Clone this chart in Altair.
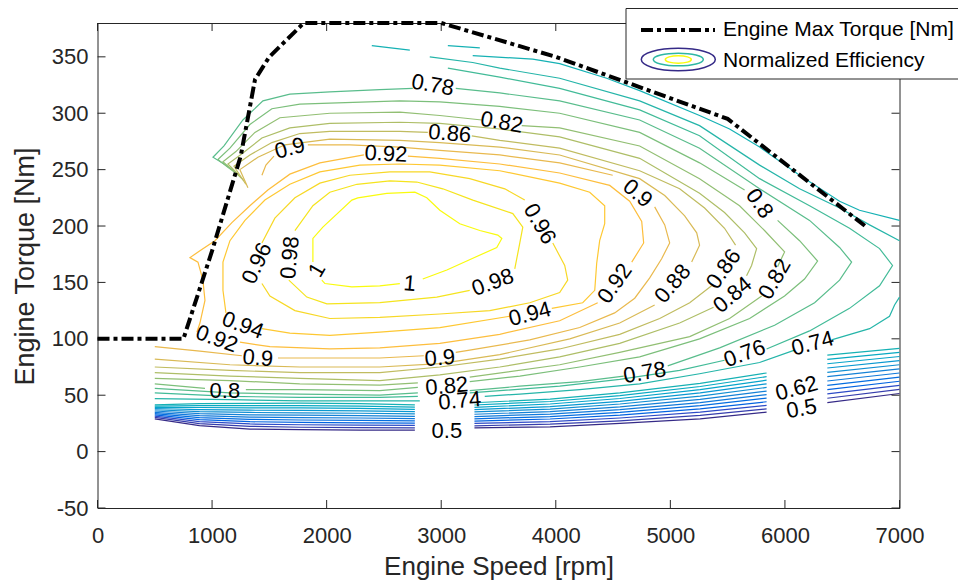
import altair as alt
import pandas as pd

FONT = "Liberation Sans, Arial, Helvetica, sans-serif"
AXC = "#262626"
W, H = 802, 485

# ---------------- data ----------------
levels = [0.50, 0.52, 0.54, 0.56, 0.58, 0.60, 0.62, 0.64, 0.66, 0.68, 0.70, 0.72, 0.74,
          0.76, 0.78, 0.80, 0.82, 0.84, 0.86, 0.88, 0.90, 0.92, 0.94, 0.96, 0.98, 1.00]
level_colors = ["#352a87", "#353dad", "#2c4ac7", "#0363e1", "#046de0", "#1079da", "#1481d6",
                "#108ed2", "#0998d1", "#06a4ca", "#07a9c2", "#15b1b4", "#25b5a9", "#42bb98",
                "#59bd8c", "#7cbf7b", "#92bf73", "#aebe67", "#c0bc60", "#d9ba56", "#e9b94e",
                "#fdbe3d", "#fec832", "#f7d826", "#f5e41d", "#f9fb0e"]

x_ticks = [0, 1000, 2000, 3000, 4000, 5000, 6000, 7000]
y_ticks = [-50, 0, 50, 100, 150, 200, 250, 300, 350]

max_torque_rpm = [0, 750, 1000, 1250, 1375, 1500, 1800, 3000, 4000, 5500, 6700]
max_torque_nm = [100, 100, 178, 262, 330, 350, 380, 380, 350, 295, 200]

# low-efficiency band (0.50 ... 0.72): torque at fixed speeds, three pieces
band_rpm = [[500, 890, 1330, 1770, 2290, 2770], [3290, 3950, 4560, 5260, 5840], [6370, 7000]]
band_050 = [[29, 23, 20, 19.5, 19, 19], [21, 22, 25, 29, 35], [43.5, 51.5]]
band_052 = [[30.4, 24.8, 22.4, 21.6, 21.2, 21.1], [22.9, 24.4, 27.3, 32.1, 37.8], [47.3, 55.1]]
band_054 = [[31.5, 26.6, 24.5, 23.8, 23.4, 23.2], [25.0, 26.6, 29.8, 35.0, 41.0], [51.1, 58.8]]
band_056 = [[32.6, 28.4, 26.5, 25.9, 25.5, 25.2], [27.0, 28.9, 32.3, 37.8, 44.2], [55.0, 62.4]]
band_058 = [[33.7, 30.2, 28.6, 28.0, 27.6, 27.3], [29.1, 31.1, 34.7, 40.7, 47.4], [58.8, 66.1]]
band_060 = [[34.8, 31.9, 30.6, 30.2, 29.8, 29.3], [31.1, 33.3, 37.2, 43.5, 50.6], [62.6, 69.7]]
band_062 = [[36.0, 33.7, 32.6, 32.3, 31.9, 31.3], [33.1, 35.5, 39.7, 46.3, 53.7], [66.4, 73.3]]
band_064 = [[37.1, 35.5, 34.7, 34.4, 34.0, 33.4], [35.2, 37.7, 42.2, 49.2, 56.9], [70.2, 77.0]]
band_066 = [[38.2, 37.3, 36.7, 36.5, 36.1, 35.4], [37.2, 39.9, 44.6, 52.0, 60.1], [74.1, 80.6]]
band_068 = [[39.3, 39.1, 38.8, 38.7, 38.3, 37.5], [39.3, 42.2, 47.1, 54.9, 63.3], [77.9, 84.3]]
band_070 = [[40.4, 40.8, 40.8, 40.8, 40.4, 39.5], [41.3, 44.4, 49.6, 57.7, 66.5], [81.7, 87.9]]
band_072 = [[41.5, 42.6, 42.8, 42.9, 42.5, 41.5], [43.3, 46.6, 52.1, 60.5, 69.7], [85.5, 91.5]]

# contour pieces (rpm, Nm)
lvl_072 = [
    [(2394, 360), (2726, 356)],
    [(3058, 360), (3337, 358)],
    [(3275, 351), (3799, 348), (4034, 344), (4444, 331), (4732, 320), (5255, 298), (5517, 286),
     (5779, 270), (6128, 245), (6477, 222), (6651, 214), (7000, 205)],
]
lvl_074 = [
    [(2900, 350), (3275, 345), (3511, 340), (4034, 331), (4732, 311), (5255, 289), (5779, 254),
     (6128, 233), (6477, 216), (6739, 201), (7000, 187)],
    [(7000, 137), (6957, 130), (6913, 120), (6739, 109), (6503, 102), (6407, 99)],
    [(6084, 90), (5779, 79), (5255, 69), (4732, 60), (4209, 55), (3686, 51), (3380, 49)],
    [(2813, 45), (2464, 45), (1766, 45), (1156, 46), (500, 47)],
]
lvl_076 = [
    [(3058, 340), (3511, 332), (4034, 322), (4732, 303), (5255, 280), (5779, 242), (6215, 218),
     (6564, 198), (6826, 180), (6939, 165), (6826, 147), (6564, 127), (6215, 107), (5840, 91)],
    [(5473, 81), (5081, 72), (4558, 64), (4034, 58), (3249, 52)],
    [(2796, 49), (2464, 48), (1766, 48), (1156, 49), (500, 52)],
]
lvl_078 = [
    [(1208, 248), (1104, 255), (1008, 261), (1104, 271), (1269, 294), (1444, 311), (1679, 317),
     (2028, 319), (2464, 321), (2752, 322)],
    [(3127, 322), (3511, 318), (4034, 311), (4732, 294), (5255, 269), (5779, 233), (6215, 205),
     (6477, 181), (6582, 168), (6477, 152), (6259, 132), (5910, 112), (5430, 92), (4977, 76)],
    [(4593, 67), (4209, 62), (3686, 58), (3249, 54)],
    [(2796, 52), (2464, 50), (1766, 51), (1156, 52), (500, 56)],
]
lvl_080 = [
    [(1234, 245), (1138, 252), (1051, 259), (1156, 269), (1330, 290), (1522, 304), (1766, 308),
     (2028, 309), (2639, 311), (2988, 310), (3511, 306), (4034, 300), (4732, 283), (5255, 256),
     (5648, 232)],
    [(5936, 205), (6128, 187), (6285, 169), (6171, 153), (5997, 138), (5692, 118), (5255, 100),
     (4732, 84), (4209, 75), (3686, 67), (3249, 62)],
    [(2796, 57), (2464, 54), (1766, 55), (1295, 55)],
    [(938, 56), (500, 60)],
]
lvl_082 = [
    [(1261, 242), (1173, 250), (1095, 257), (1208, 266), (1374, 283), (1592, 296), (2028, 300),
     (2639, 301), (2988, 298), (3354, 294)],
    [(3703, 289), (4034, 287), (4732, 271), (5255, 242), (5604, 218), (5822, 196), (5997, 177),
     (5936, 164)],
    [(5797, 138), (5517, 118), (5169, 102), (4558, 88), (4034, 77), (3249, 66)],
    [(2796, 61), (2464, 59), (1766, 60), (1156, 63), (500, 65)],
]
lvl_084 = [
    [(1278, 240), (1208, 248), (1138, 255), (1261, 264), (1435, 278), (1679, 287), (2028, 291),
     (2639, 292), (2988, 291), (3511, 286), (4034, 279), (4732, 260), (5255, 229), (5473, 212),
     (5648, 194), (5753, 180), (5709, 165), (5665, 156)],
    [(5377, 128), (5081, 114), (4558, 96), (4034, 84), (3511, 75), (2988, 68), (2464, 63),
     (1766, 65), (1156, 67), (500, 70)],
]
lvl_086 = [
    [(1295, 237), (1243, 245), (1191, 253), (1330, 263), (1522, 274), (1766, 282), (2028, 284),
     (2639, 284), (2883, 283)],
    [(3267, 280), (3511, 276), (4034, 269), (4732, 249), (5081, 233), (5299, 216), (5473, 198),
     (5569, 183)],
    [(5360, 147), (5169, 132), (4907, 118), (4558, 104), (4034, 91), (3511, 82), (2988, 75),
     (2464, 70), (1766, 70), (1156, 72), (500, 75)],
]
lvl_088 = [
    [(1313, 234), (1278, 242), (1243, 250), (1400, 261), (1636, 272), (2028, 277), (2639, 276),
     (2988, 274), (3511, 270), (4034, 263), (4732, 242), (4951, 227), (5125, 209), (5230, 194),
     (5255, 183), (5186, 168)],
    [(4863, 130), (4558, 114), (4122, 100), (3511, 86), (2988, 78), (2464, 75), (1766, 75),
     (1156, 77), (500, 82)],
]
lvl_090 = [
    [(1435, 245), (1470, 254), (1540, 262)],
    [(1836, 272), (2203, 272), (2639, 270), (2988, 267), (3511, 263), (4034, 256), (4497, 245)],
    [(4863, 217), (4951, 201), (4994, 185), (4924, 171), (4820, 154), (4689, 136), (4514, 123),
     (4209, 110), (3773, 99), (3249, 90), (3127, 88)],
    [(2848, 85), (2464, 83), (2028, 83), (1575, 83)],
    [(1260, 85), (894, 89), (500, 93)],
]
lvl_092 = [
    [(2709, 262), (2988, 260), (3511, 255), (4034, 247), (4471, 236), (4645, 222), (4750, 204),
     (4767, 185), (4663, 168)],
    [(4366, 132), (4034, 116), (3511, 104), (2988, 96), (2464, 92), (2028, 91), (1505, 93),
     (1243, 97)],
    [(868, 106), (894, 114), (938, 134), (920, 152), (877, 168), (807, 172), (894, 178),
     (1025, 187), (1173, 203), (1330, 218), (1487, 232), (1679, 246), (1941, 256), (2325, 263)],
]
lvl_094 = [
    [(1121, 123), (1095, 143), (1095, 168), (1156, 187), (1287, 205), (1461, 223), (1679, 237),
     (1941, 248), (2290, 254), (2639, 255), (2988, 254), (3511, 249), (4034, 238), (4296, 230),
     (4427, 218), (4427, 202), (4383, 187), (4357, 167), (4340, 143), (4235, 132), (3965, 127)],
    [(3598, 120), (2988, 110), (2464, 106), (2028, 103), (1679, 105), (1435, 109)],
]
lvl_096 = [
    [(1435, 185), (1548, 207), (1723, 225), (1941, 238), (2203, 245), (2552, 248), (2900, 248),
     (3249, 242), (3555, 233), (3729, 223)],
    [(3974, 185), (4078, 165), (4104, 152), (4034, 141), (3773, 132), (3424, 125), (2988, 122),
     (2464, 119), (2028, 118), (1723, 125), (1505, 138), (1435, 149)],
]
lvl_098 = [
    [(1723, 196), (1880, 218), (2028, 230), (2264, 237), (2552, 240), (2787, 239), (3014, 233),
     (3276, 223), (3625, 211), (3712, 199), (3686, 185), (3642, 162)],
    [(3249, 143), (2961, 137), (2464, 132), (2002, 131), (1827, 137), (1670, 152)],
]
lvl_100 = [
    [(1880, 168), (1880, 189), (1967, 199), (2220, 223), (2272, 225), (2525, 229), (2770, 230),
     (2874, 225), (2988, 214), (3162, 202), (3337, 196), (3494, 192), (3529, 189), (3485, 181),
     (3223, 169), (3049, 161), (2839, 153)],
    [(2639, 149), (2464, 147), (2220, 146), (1985, 149), (1958, 152)],
]

label_text = ["0.78", "0.82", "0.86", "0.9", "0.92", "0.9", "0.96", "0.8", "0.96", "0.98", "1",
              "1", "0.98", "0.94", "0.92", "0.88", "0.86", "0.84", "0.82", "0.94", "0.92", "0.9",
              "0.8", "0.9", "0.82", "0.74", "0.5", "0.78", "0.76", "0.74", "0.62", "0.5"]
label_rpm = [2926, 3528, 3075, 1679, 2517, 4715, 3860, 5779, 1391, 1679, 1915, 2726, 3450, 3773,
             4514, 5020, 5465, 5543, 5910, 1269, 1042, 1400, 1112, 2988, 3049, 3162, 3049, 4776,
             5648, 6241, 6102, 6145]
label_nm = [325, 292, 282, 269, 264, 229, 202, 220, 167, 172, 161, 149, 150, 122, 149, 149, 162,
            139, 153, 112, 100, 83, 54, 83, 58, 45, 18, 70, 87, 96, 56, 38]
label_angle = [10, 10, 5, 345, 3, 40, 60, 55, 295, 275, 300, 5, 340, 345, 305, 310, 305, 320, 300,
               20, 20, 5, 0, 355, 355, 355, 0, 350, 340, 345, 345, 350]

# ---------------- tables ----------------
band_levels = [(0.50, band_050), (0.52, band_052), (0.54, band_054), (0.56, band_056),
               (0.58, band_058), (0.60, band_060), (0.62, band_062), (0.64, band_064),
               (0.66, band_066), (0.68, band_068), (0.70, band_070), (0.72, band_072)]
line_levels = [(0.72, lvl_072), (0.74, lvl_074), (0.76, lvl_076), (0.78, lvl_078),
               (0.80, lvl_080), (0.82, lvl_082), (0.84, lvl_084), (0.86, lvl_086),
               (0.88, lvl_088), (0.90, lvl_090), (0.92, lvl_092), (0.94, lvl_094),
               (0.96, lvl_096), (0.98, lvl_098), (1.00, lvl_100)]

rows = []
seg = 0
for lv, pieces in band_levels:
    for rpms, nms in zip(band_rpm, pieces):
        for i, (r, n) in enumerate(zip(rpms, nms)):
            rows.append({"seg": seg, "ord": i, "rpm": r, "nm": n, "lvl": f"{lv:.2f}"})
        seg += 1
for lv, segs in line_levels:
    for s in segs:
        for i, (r, n) in enumerate(s):
            rows.append({"seg": seg, "ord": i, "rpm": r, "nm": n, "lvl": f"{lv:.2f}"})
        seg += 1
contour_df = pd.DataFrame(rows)
mt_df = pd.DataFrame({"rpm": max_torque_rpm, "nm": max_torque_nm,
                      "ord": list(range(len(max_torque_rpm)))})
lab_df = pd.DataFrame({"rpm": label_rpm, "nm": label_nm, "txt": label_text, "ang": label_angle})
xt_df = pd.DataFrame({"rpm": x_ticks})
yt_df = pd.DataFrame({"nm": y_ticks})
one = pd.DataFrame({"k": [0]})

# ---------------- encodings ----------------
x_axis = alt.Axis(values=x_ticks, title="Engine Speed [rpm]", grid=False, ticks=False, tickSize=0,
                  domain=False, labelPadding=17, labelFontSize=22, labelFont=FONT, labelColor=AXC,
                  labelFlush=False, labelOverlap=False, labelExpr="'' + datum.value",
                  titleFont=FONT, titleFontSize=26, titleFontWeight="normal", titleColor=AXC,
                  titleY=66, titleBaseline="alphabetic")
y_axis = alt.Axis(values=y_ticks, title="Engine Torque [Nm]", grid=False, ticks=False, tickSize=0,
                  domain=False, labelPadding=9.5, labelFontSize=22, labelFont=FONT, labelColor=AXC,
                  labelFlush=False, labelOverlap=False, labelExpr="'' + datum.value",
                  titleFont=FONT, titleFontSize=27, titleFontWeight="normal", titleColor=AXC,
                  titleAngle=270, titleX=-64.5, titleY=243, titleBaseline="alphabetic",
                  titleAlign="center")
x_enc = alt.X("rpm:Q", scale=alt.Scale(domain=[0, 7000], nice=False, zero=False), axis=x_axis)
y_enc = alt.Y("nm:Q", scale=alt.Scale(domain=[-50, 380], nice=False, zero=False), axis=y_axis)

contours = alt.Chart(contour_df).mark_line(strokeWidth=1.2).encode(
    x=x_enc, y=y_enc, detail="seg:N", order="ord:Q",
    color=alt.Color("lvl:N", scale=alt.Scale(domain=[f"{l:.2f}" for l in levels],
                                             range=level_colors), legend=None))

tick_b = alt.Chart(xt_df).mark_rule(color=AXC, strokeWidth=1).encode(
    x=x_enc, y=alt.value(H - 8), y2=alt.value(H))
tick_t = alt.Chart(xt_df).mark_rule(color=AXC, strokeWidth=1).encode(
    x=x_enc, y=alt.value(0), y2=alt.value(8))
tick_l = alt.Chart(yt_df).mark_rule(color=AXC, strokeWidth=1).encode(
    y=y_enc, x=alt.value(0), x2=alt.value(8))
tick_r = alt.Chart(yt_df).mark_rule(color=AXC, strokeWidth=1).encode(
    y=y_enc, x=alt.value(W - 8), x2=alt.value(W))

max_torque = alt.Chart(mt_df).mark_line(color="black", strokeWidth=4, strokeDash=[12, 4, 4, 4]).encode(
    x=x_enc, y=y_enc, order="ord:Q")

labels = alt.Chart(lab_df).mark_text(font=FONT, fontSize=22, color="black", align="center",
                                     baseline="middle").encode(
    x=x_enc, y=y_enc, text="txt:N", angle=alt.Angle("ang:Q", scale=None))

# ---------------- legend (drawn; box runs off the right edge) ----------------
LX0, LX1, LY0, LY1 = 528.5, 900, -14.5, 56
leg_fill = alt.Chart(one).mark_rect(fill="white", strokeWidth=0).encode(
    x=alt.value(LX0), x2=alt.value(LX1), y=alt.value(LY0), y2=alt.value(LY1))
leg_top = alt.Chart(one).mark_rule(color=AXC, strokeWidth=1).encode(
    x=alt.value(LX0), x2=alt.value(LX1), y=alt.value(LY0))
leg_bot = alt.Chart(one).mark_rule(color=AXC, strokeWidth=1).encode(
    x=alt.value(LX0), x2=alt.value(LX1), y=alt.value(LY1))
leg_left = alt.Chart(one).mark_rule(color=AXC, strokeWidth=1).encode(
    x=alt.value(LX0), y=alt.value(LY0), y2=alt.value(LY1))
leg_line = alt.Chart(one).mark_rule(color="black", strokeWidth=4, strokeDash=[12, 4, 4, 4]).encode(
    x=alt.value(543.5), x2=alt.value(617.5), y=alt.value(7))
ell_outer = alt.Chart(one).mark_point(
    shape="M-1,0A1,0.303,0,1,1,1,0A1,0.303,0,1,1,-1,0Z", filled=False, opacity=1,
    strokeWidth=1.5, color="#352a87").encode(x=alt.value(580.8), y=alt.value(36.5),
                                            size=alt.value(5476))
ell_mid = alt.Chart(one).mark_point(
    shape="M-1,0A1,0.254,0,1,1,1,0A1,0.254,0,1,1,-1,0Z", filled=False, opacity=1,
    strokeWidth=1.5, color="#2eb7a4").encode(x=alt.value(580.8), y=alt.value(36.5),
                                            size=alt.value(2500))
ell_in = alt.Chart(one).mark_point(
    shape="M-1,0A1,0.284,0,1,1,1,0A1,0.284,0,1,1,-1,0Z", filled=False, opacity=1,
    strokeWidth=1.5, color="#f9fb0e").encode(x=alt.value(580.8), y=alt.value(36.5),
                                            size=alt.value(676))
leg_t1 = alt.Chart(one).mark_text(font=FONT, fontSize=21, color="black", align="left",
                                  baseline="middle").encode(
    x=alt.value(625.5), y=alt.value(7), text=alt.value("Engine Max Torque [Nm]"))
leg_t2 = alt.Chart(one).mark_text(font=FONT, fontSize=21, color="black", align="left",
                                  baseline="middle").encode(
    x=alt.value(625.5), y=alt.value(38), text=alt.value("Normalized Efficiency"))

chart = alt.layer(
    contours, tick_b, tick_t, tick_l, tick_r, max_torque, labels,
    leg_fill, leg_top, leg_bot, leg_left, leg_line, ell_outer, ell_mid, ell_in, leg_t1, leg_t2
).properties(
    width=W, height=H,
    autosize=alt.AutoSizeParams(type="none"),
    padding={"left": 89.5, "top": 15, "right": 58.5, "bottom": 72},
    background="white",
).configure_view(stroke=AXC, strokeWidth=1)

chart.save("out.html", embed_options={"renderer": "svg", "actions": False})
